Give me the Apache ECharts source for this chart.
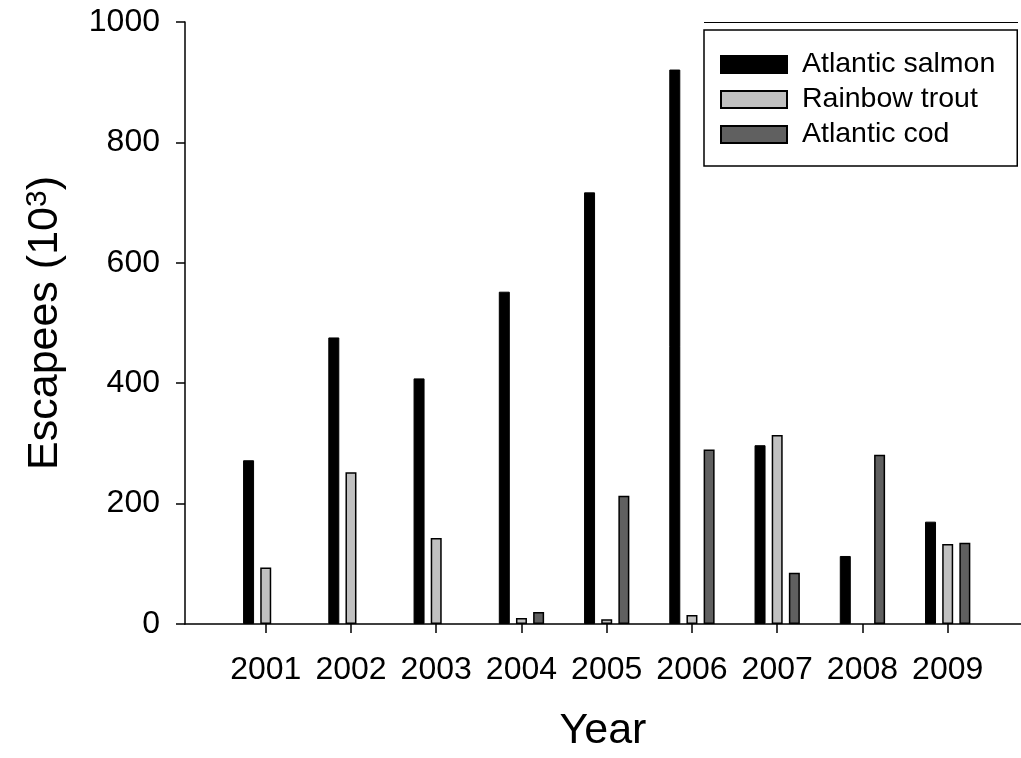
<!DOCTYPE html>
<html>
<head>
<meta charset="utf-8">
<script src="https://cdn.jsdelivr.net/npm/echarts@6/dist/echarts.min.js"></script>
<style>
html,body{margin:0;padding:0;background:#fff;overflow:hidden;}
#chart{width:100vw;height:100vh;}
</style>
</head>
<body>
<div id="chart"></div>
<script>
var years = [2001, 2002, 2003, 2004, 2005, 2006, 2007, 2008, 2009];
var salmon = [272, 476, 408, 552, 717, 921, 297, 113, 170];
var trout = [94, 252, 143, 10, 8, 15, 314, null, 133];
var cod = [null, null, null, 20, 213, 290, 85, 281, 135];
var seriesNames = ['Atlantic salmon', 'Rainbow trout', 'Atlantic cod'];

function pairs(vals) {
  return years.map(function (y, i) { return [y, vals[i] == null ? '-' : vals[i]]; });
}

var FONT = 'Liberation Sans, Arial, sans-serif';
var chart = echarts.init(document.getElementById('chart'));
var W = chart.getWidth(), H = chart.getHeight();
var sx = W / 1021, sy = H / 758;
var barCommon = {
  type: 'bar',
  barWidth: 11,
  barGap: '56%',
  animation: false
};
chart.setOption({
  animation: false,
  backgroundColor: '#ffffff',
  textStyle: { fontFamily: FONT, color: '#000' },
  grid: { left: 185 * sx, width: 836 * sx, top: 22 * sy, height: 609 * sy, containLabel: false },
  legend: {
    orient: 'vertical',
    left: 704 * sx,
    top: 30 * sy,
    padding: [20 * sy, 22, 17 * sy, 16],
    borderColor: '#000',
    borderWidth: 1.5,
    itemWidth: 66,
    itemHeight: 17,
    itemGap: 6 * sy,
    icon: 'rect',
    textStyle: { fontSize: 28.5, fontFamily: FONT, color: '#000', lineHeight: 28 * sy, padding: [0, 0, 0, 10] },
    data: seriesNames
  },
  xAxis: {
    type: 'value',
    min: 2000.053,
    max: 2009.86,
    name: 'Year',
    nameLocation: 'middle',
    nameGap: 86 * sy,
    nameTextStyle: { fontSize: 43, fontFamily: FONT, color: '#000' },
    splitLine: { show: false },
    axisLine: { show: true, lineStyle: { color: '#000', width: 1.5 } },
    axisTick: { show: true, length: 9, customValues: years, lineStyle: { color: '#000', width: 1.5 } },
    axisLabel: { customValues: years, margin: 30 * sy, fontSize: 32, fontFamily: FONT, color: '#000',
      formatter: function (v) { return String(Math.round(v)); } }
  },
  yAxis: {
    type: 'value',
    min: 0,
    max: 1000,
    interval: 200,
    name: 'Escapees (10{sup|3})',
    nameLocation: 'middle',
    nameRotate: 90,
    nameGap: 118,
    nameTextStyle: {
      fontSize: 43, fontFamily: FONT, color: '#000',
      rich: { sup: { fontSize: 30, fontFamily: FONT, color: '#000', verticalAlign: 'top', padding: [0, 0, 14, 0] } }
    },
    splitLine: { show: false },
    axisLine: { show: true, lineStyle: { color: '#000', width: 1.5 } },
    axisTick: { show: true, length: 9, lineStyle: { color: '#000', width: 1.5 } },
    axisLabel: { margin: 25, fontSize: 32, fontFamily: FONT, color: '#000',
      formatter: function (v) { return String(v); } }
  },
  graphic: [{
    type: 'line',
    shape: { x1: 704 * sx, y1: 22.5 * sy, x2: 1018 * sx, y2: 22.5 * sy },
    style: { stroke: '#000', lineWidth: 1.2 }
  }],
  series: [
    Object.assign({}, barCommon, {
      name: seriesNames[0], data: pairs(salmon),
      itemStyle: { color: '#000000', borderColor: '#000', borderWidth: 1 }
    }),
    Object.assign({}, barCommon, {
      name: seriesNames[1], data: pairs(trout),
      itemStyle: { color: '#c0c0c0', borderColor: '#000', borderWidth: 1.5 }
    }),
    Object.assign({}, barCommon, {
      name: seriesNames[2], data: pairs(cod),
      itemStyle: { color: '#606060', borderColor: '#000', borderWidth: 1.5 }
    })
  ]
});
</script>
</body>
</html>
